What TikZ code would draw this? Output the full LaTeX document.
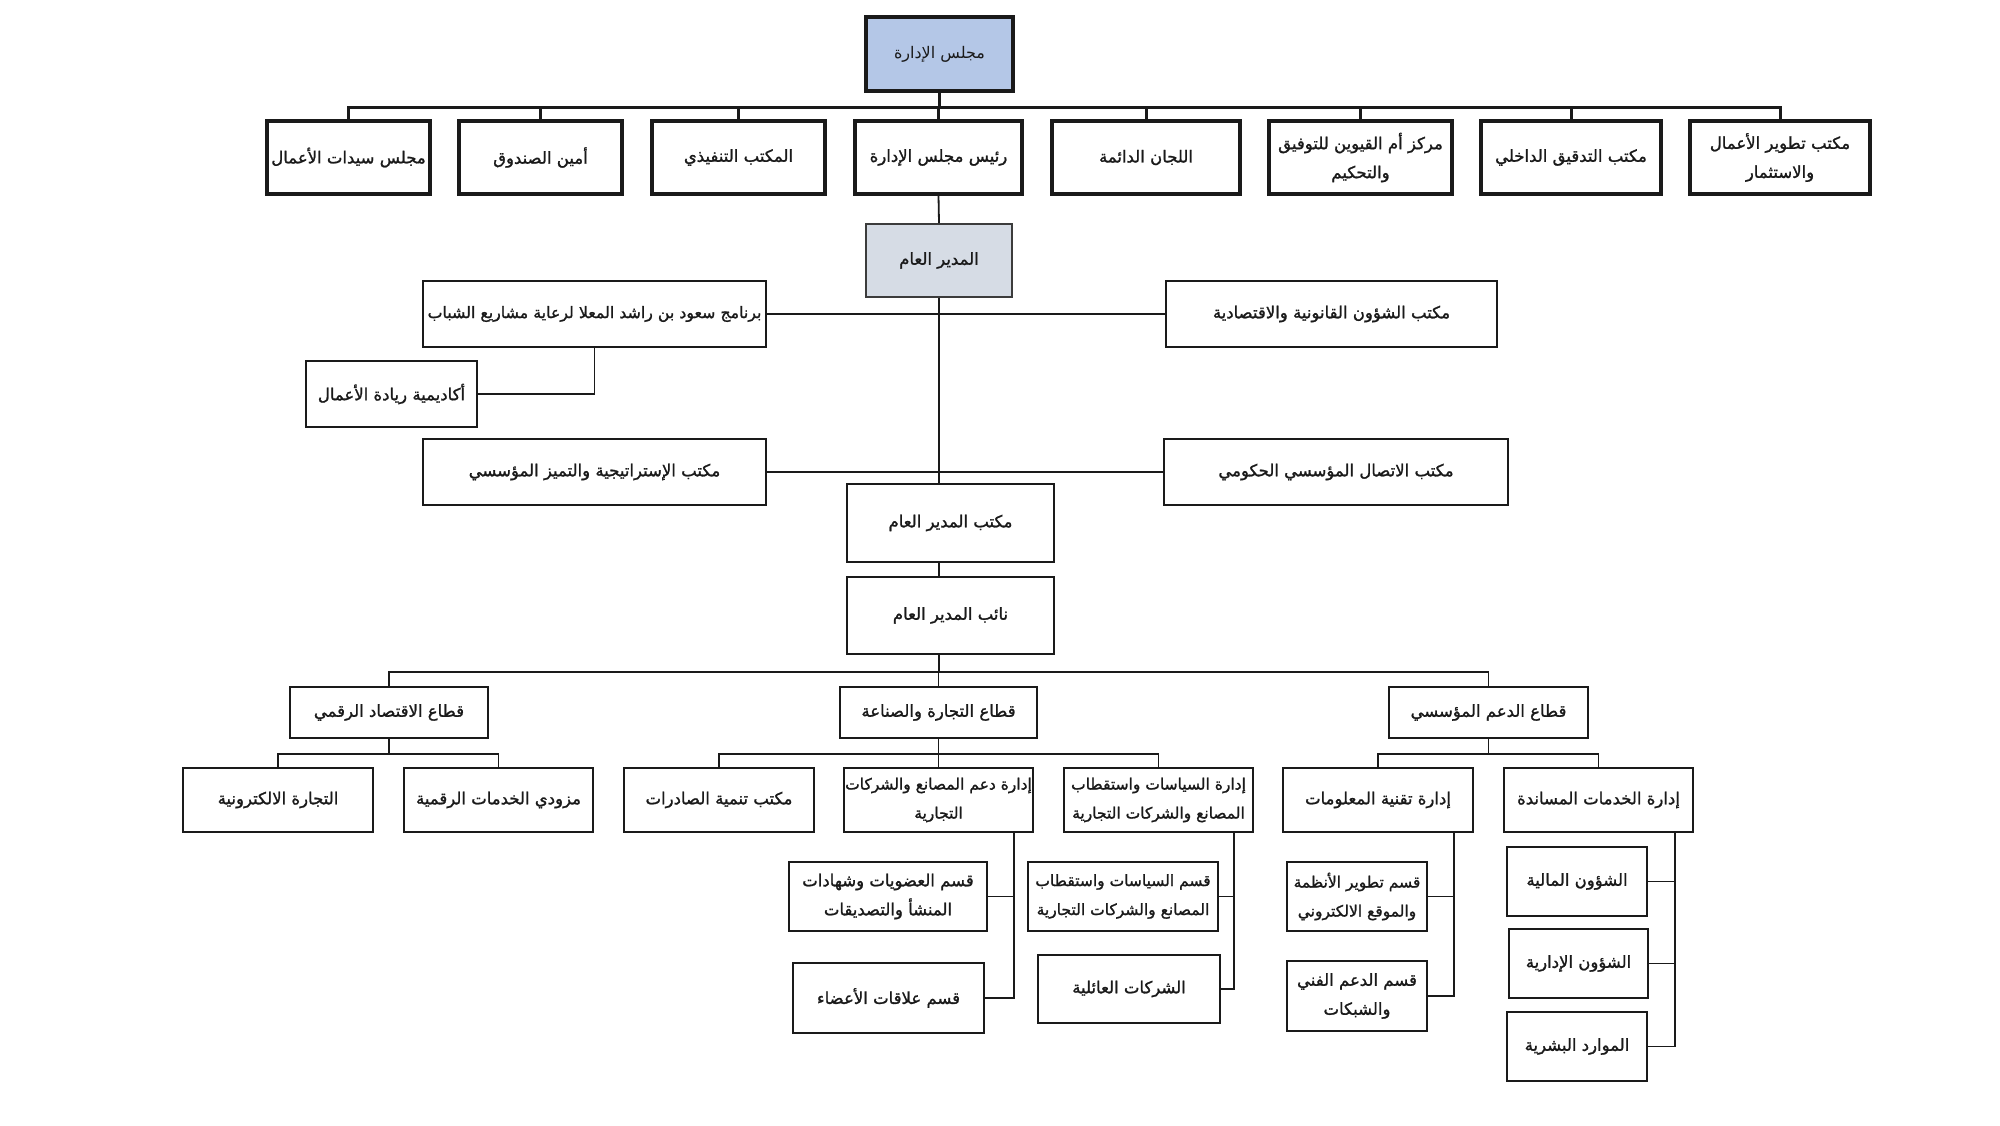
\documentclass[tikz,border=0pt]{standalone}
\usepackage{fontspec}
\newfontfamily\arabicfont[Script=Arabic,FakeBold=1.3]{DejaVu Sans}
\newfontfamily\arabiclight[Script=Arabic]{DejaVu Sans}
\TeXXeTstate=1
\newcommand\ar[1]{\beginR #1\endR}
\definecolor{topfill}{HTML}{B4C7E7}
\definecolor{gmfill}{HTML}{D6DCE5}
\definecolor{ink}{HTML}{1A1A1A}
\tikzset{
  box/.style={draw=ink, line width=1.8pt, inner sep=0pt, align=center, text=ink,
    font=\arabicfont\fontsize{16.5}{29}\selectfont},
  tightbox/.style={box, font=\arabicfont\fontsize{15.5}{29}\selectfont},
  topbox/.style={box, line width=3.2pt},
  conn/.style={draw=ink, line width=1.8pt},
  thickconn/.style={draw=ink, line width=3pt},
}
\begin{document}
\begin{tikzpicture}[x=1pt,y=-1pt]
\useasboundingbox[fill=white] (0,0) rectangle (2000,1125);
% ---- top
\node[topbox, fill=topfill, minimum width=147pt, minimum height=74pt, font=\arabiclight\fontsize{16}{29}\selectfont] (A) at (939.5,54) {\ar{مجلس الإدارة}};
\node[topbox, minimum width=163pt, minimum height=73pt] (r1) at (348.5,157.5) {\ar{مجلس سيدات الأعمال}};
\node[topbox, minimum width=163pt, minimum height=73pt] (r2) at (540.5,157.5) {\ar{أمين الصندوق}};
\node[topbox, minimum width=173pt, minimum height=73pt] (r3) at (738.5,157.5) {\ar{المكتب التنفيذي}};
\node[topbox, minimum width=167pt, minimum height=73pt] (r4) at (938.5,157.5) {\ar{رئيس مجلس الإدارة}};
\node[topbox, minimum width=188pt, minimum height=73pt] (r5) at (1146,157.5) {\ar{اللجان الدائمة}};
\node[topbox, minimum width=183pt, minimum height=73pt] (r6) at (1360.5,157.5) {\ar{مركز أم القيوين للتوفيق}\\\ar{والتحكيم}};
\node[topbox, minimum width=180pt, minimum height=73pt] (r7) at (1571,157.5) {\ar{مكتب التدقيق الداخلي}};
\node[topbox, minimum width=180pt, minimum height=73pt] (r8) at (1780,157.5) {\ar{مكتب تطوير الأعمال}\\\ar{والاستثمار}};
\coordinate (b1) at (939,107);
\draw[thickconn] (A.south) -- (A.south |- b1);
\draw[thickconn] (r1.north) -- (r1.north |- b1) -- (r8.north |- b1) -- (r8.north);
\foreach \n in {r2,r3,r4,r5,r6,r7} \draw[thickconn] (\n.north) -- (\n.north |- b1);
% ---- middle
\node[box, fill=gmfill, draw=ink!85, minimum width=146pt, minimum height=73pt] (gm) at (939,260.5) {\ar{المدير العام}};
\node[box, minimum width=343pt, minimum height=66pt, font=\arabicfont\fontsize{15.8}{29}\selectfont] (prog) at (594.5,314) {\ar{برنامج سعود بن راشد المعلا لرعاية مشاريع الشباب}};
\node[box, minimum width=331pt, minimum height=66pt] (legal) at (1331.5,314) {\ar{مكتب الشؤون القانونية والاقتصادية}};
\node[box, minimum width=171pt, minimum height=66pt] (acad) at (391.5,394) {\ar{أكاديمية ريادة الأعمال}};
\node[box, minimum width=343pt, minimum height=66pt] (strat) at (594.5,472) {\ar{مكتب الإستراتيجية والتميز المؤسسي}};
\node[box, minimum width=344pt, minimum height=66pt] (comm) at (1336,472) {\ar{مكتب الاتصال المؤسسي الحكومي}};
\node[box, minimum width=207pt, minimum height=78pt] (gmo) at (950.5,523) {\ar{مكتب المدير العام}};
\node[box, minimum width=207pt, minimum height=77pt] (dep) at (950.5,615.5) {\ar{نائب المدير العام}};
\draw[conn] (r4.south) -- (gm.north);
\draw[conn, line width=2.4pt] (gm.south) -- (gm.south |- gmo.north);
\draw[conn] (gmo.south -| gm.south) -- (dep.north -| gm.south);
\draw[conn] (prog.east) -- (legal.west);
\draw[conn] (strat.east) -- (comm.west);
\draw[conn] (prog.south) |- (acad.east);
% ---- sectors
\coordinate (b2) at (939,672);
\node[box, minimum width=198pt, minimum height=51pt] (dig) at (389,712.5) {\ar{قطاع الاقتصاد الرقمي}};
\node[box, minimum width=197pt, minimum height=51pt] (trd) at (938.5,712.5) {\ar{قطاع التجارة والصناعة}};
\node[box, minimum width=199pt, minimum height=51pt] (sup) at (1488.5,712.5) {\ar{قطاع الدعم المؤسسي}};
\draw[conn] (dep.south -| b2) -- (b2);
\draw[conn] (dig.north) -- (dig.north |- b2) -- (sup.north |- b2) -- (sup.north);
\draw[conn] (trd.north) -- (trd.north |- b2);
% ---- level 3
\coordinate (b3) at (0,754);
\node[box, minimum width=190pt, minimum height=64pt] (ecom) at (278,800) {\ar{التجارة الالكترونية}};
\node[box, minimum width=189pt, minimum height=64pt] (dsp) at (498.5,800) {\ar{مزودي الخدمات الرقمية}};
\node[box, minimum width=190pt, minimum height=64pt] (exp) at (719,800) {\ar{مكتب تنمية الصادرات}};
\node[tightbox, minimum width=189pt, minimum height=64pt] (fsup) at (938.5,800) {\ar{إدارة دعم المصانع والشركات}\\\ar{التجارية}};
\node[tightbox, minimum width=189pt, minimum height=64pt] (pol) at (1158.5,800) {\ar{إدارة السياسات واستقطاب}\\\ar{المصانع والشركات التجارية}};
\node[box, minimum width=190pt, minimum height=64pt] (it) at (1378,800) {\ar{إدارة تقنية المعلومات}};
\node[box, minimum width=189pt, minimum height=64pt] (svc) at (1598.5,800) {\ar{إدارة الخدمات المساندة}};
\draw[conn] (dig.south) -- (dig.south |- b3);
\draw[conn] (ecom.north) -- (ecom.north |- b3) -- (dsp.north |- b3) -- (dsp.north);
\draw[conn] (trd.south) -- (trd.south |- b3);
\draw[conn] (exp.north) -- (exp.north |- b3) -- (pol.north |- b3) -- (pol.north);
\draw[conn] (fsup.north) -- (fsup.north |- b3);
\draw[conn] (sup.south) -- (sup.south |- b3);
\draw[conn] (it.north) -- (it.north |- b3) -- (svc.north |- b3) -- (svc.north);
% ---- level 4
\node[box, minimum width=198pt, minimum height=69pt] (mem) at (888,896.5) {\ar{قسم العضويات وشهادات}\\\ar{المنشأ والتصديقات}};
\node[box, minimum width=191pt, minimum height=70pt] (rel) at (888.5,998) {\ar{قسم علاقات الأعضاء}};
\node[tightbox, minimum width=190pt, minimum height=69pt] (polsec) at (1123,896.5) {\ar{قسم السياسات واستقطاب}\\\ar{المصانع والشركات التجارية}};
\node[box, minimum width=182pt, minimum height=68pt] (fam) at (1129,989) {\ar{الشركات العائلية}};
\node[tightbox, minimum width=140pt, minimum height=69pt] (sysdev) at (1357,896.5) {\ar{قسم تطوير الأنظمة}\\\ar{والموقع الالكتروني}};
\node[box, minimum width=140pt, minimum height=70pt] (tech) at (1357,996) {\ar{قسم الدعم الفني}\\\ar{والشبكات}};
\node[box, minimum width=140pt, minimum height=69pt] (fin) at (1577,881.5) {\ar{الشؤون المالية}};
\node[box, minimum width=139pt, minimum height=69pt] (adm) at (1578.5,963.5) {\ar{الشؤون الإدارية}};
\node[box, minimum width=140pt, minimum height=69pt] (hr) at (1577,1046.5) {\ar{الموارد البشرية}};
\coordinate (vf) at (1014,0);
\coordinate (vp) at (1234,0);
\coordinate (vi) at (1454,0);
\coordinate (vs) at (1675,0);
\draw[conn] (fsup.south -| vf) |- (rel.east);
\draw[conn] (mem.east) -- (mem.east -| vf);
\draw[conn] (pol.south -| vp) |- (fam.east);
\draw[conn] (polsec.east) -- (polsec.east -| vp);
\draw[conn] (it.south -| vi) |- (tech.east);
\draw[conn] (sysdev.east) -- (sysdev.east -| vi);
\draw[conn] (svc.south -| vs) |- (hr.east);
\draw[conn] (fin.east) -- (fin.east -| vs);
\draw[conn] (adm.east) -- (adm.east -| vs);
\end{tikzpicture}
\end{document}
